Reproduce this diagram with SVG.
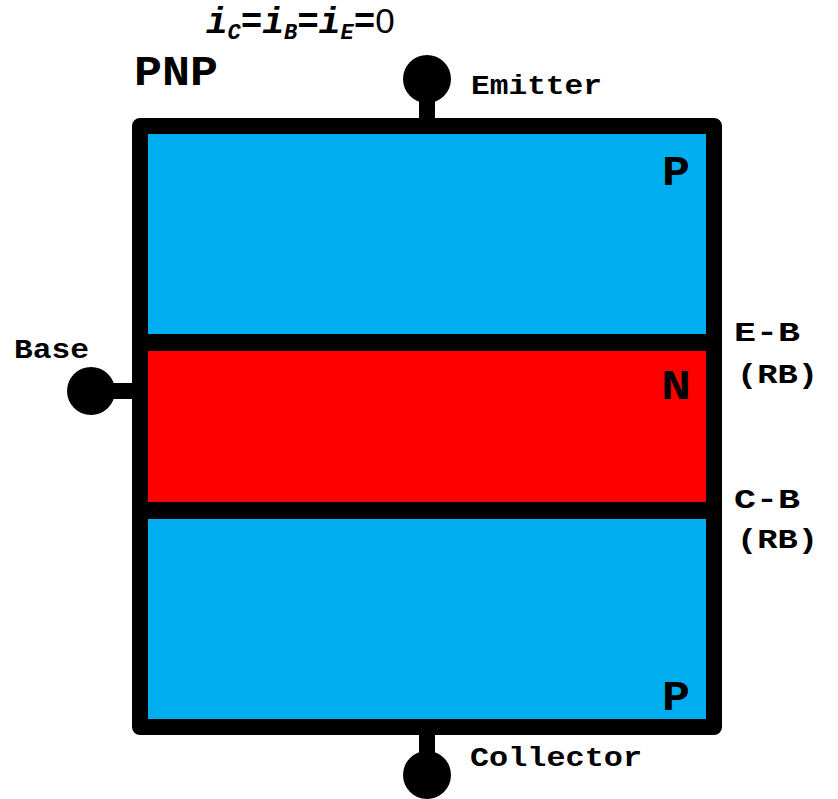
<svg xmlns="http://www.w3.org/2000/svg" width="838" height="799" viewBox="0 0 838 799">
<style>
.lbl{font-family:"Liberation Mono","Courier New",monospace;font-weight:bold;fill:#000}
.t{font-size:28px}
.big{font-size:42px}
.wire{stroke:#000;stroke-width:16;fill:none}
.mi{font-family:"Liberation Mono","Courier New",monospace;font-style:italic;font-weight:bold}
</style>
<rect width="838" height="799" fill="#fff"/>
<g id="layers">
<rect id="p-top" x="140" y="126" width="574" height="216" fill="#00ADEF"/>
<rect id="n-mid" x="140" y="342" width="574" height="169" fill="#FF0000"/>
<rect id="p-bot" x="140" y="511" width="574" height="216" fill="#00ADEF"/>
<line x1="140" y1="342.5" x2="714" y2="342.5" stroke="#000" stroke-width="17"/>
<line x1="140" y1="510.5" x2="714" y2="510.5" stroke="#000" stroke-width="17"/>
<rect x="140" y="126" width="574" height="601" fill="none" stroke="#000" stroke-width="16" stroke-linejoin="round"/>
</g>
<g id="connectors">
<line class="wire" x1="427" y1="79" x2="427" y2="120"/>
<line class="wire" x1="91" y1="391" x2="136" y2="391"/>
<line class="wire" x1="427" y1="733" x2="427" y2="775"/>
</g>
<g id="emitter"><circle cx="427" cy="79" r="24"/><text class="lbl t" x="471" y="94" textLength="131" lengthAdjust="spacingAndGlyphs">Emitter</text></g>
<g id="base"><circle cx="91" cy="391" r="24"/><text class="lbl t" x="14" y="358" textLength="75" lengthAdjust="spacingAndGlyphs">Base</text></g>
<g id="collector"><circle cx="427" cy="775" r="24"/><text class="lbl t" x="470" y="766" textLength="172" lengthAdjust="spacingAndGlyphs">Collector</text></g>
<g id="labels">
<text class="lbl big" x="134" y="85" textLength="84" lengthAdjust="spacingAndGlyphs">PNP</text>
<text class="lbl big" x="662" y="185" textLength="28" lengthAdjust="spacingAndGlyphs">P</text>
<text class="lbl big" x="661" y="399" textLength="30" lengthAdjust="spacingAndGlyphs">N</text>
<text class="lbl big" x="662" y="710" textLength="28" lengthAdjust="spacingAndGlyphs">P</text>
<text class="lbl t" x="734" y="341" textLength="66" lengthAdjust="spacingAndGlyphs">E-B</text>
<text class="lbl t" x="737" y="383" textLength="81" lengthAdjust="spacingAndGlyphs">(RB)</text>
<text class="lbl t" x="734" y="508" textLength="66" lengthAdjust="spacingAndGlyphs">C-B</text>
<text class="lbl t" x="737" y="548" textLength="81" lengthAdjust="spacingAndGlyphs">(RB)</text>
<text x="206" y="33" font-family="Liberation Mono, monospace" font-weight="bold" font-size="36"><tspan class="mi">i</tspan><tspan class="mi" font-size="22" dy="6">C</tspan><tspan dy="-6">=</tspan><tspan class="mi">i</tspan><tspan class="mi" font-size="22" dy="6">B</tspan><tspan dy="-6">=</tspan><tspan class="mi">i</tspan><tspan class="mi" font-size="22" dy="6">E</tspan><tspan dy="-6">=</tspan><tspan font-family="Liberation Sans, Arial, sans-serif" font-weight="normal" font-size="35">0</tspan></text>
</g>
</svg>
